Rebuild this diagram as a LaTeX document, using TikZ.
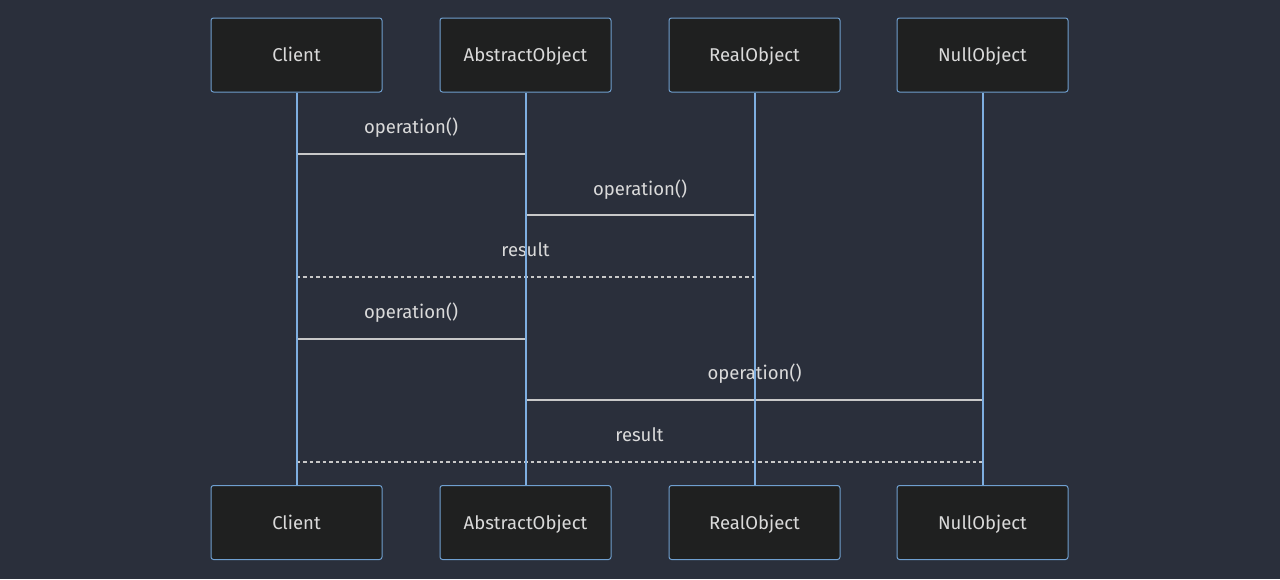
\documentclass[tikz,border=0pt]{standalone}
\usepackage{fontspec}
\setmainfont{Fira Sans}
\usepackage{xcolor}
\usetikzlibrary{positioning,calc}

\definecolor{bgcol}{HTML}{2A2F3B}
\definecolor{boxfill}{HTML}{1F2020}
\definecolor{boxline}{HTML}{6F9FCF}
\definecolor{lifecol}{HTML}{7EAEE0}
\definecolor{msgcol}{HTML}{C8C8C8}
\definecolor{txtcol}{HTML}{DADADA}

\tikzset{
  actor/.style={draw=boxline, fill=boxfill, line width=1pt, rounded corners=2.5pt,
    minimum width=171pt, minimum height=74pt, text=txtcol, font=\fontsize{18.5}{22}\selectfont,
    text height=1.5ex, text depth=.35ex},
  life/.style={draw=lifecol, line width=2pt},
  msg/.style={draw=msgcol, line width=1.8pt},
  reply/.style={msg, dash pattern=on 3.5pt off 3pt},
  lbl/.style={text=txtcol, font=\fontsize{18.5}{22}\selectfont, text height=1.5ex, text depth=.35ex}
}

\begin{document}
\begin{tikzpicture}[x=1pt,y=-1pt]
    \useasboundingbox (0,0) rectangle (1280,579);
    \fill[bgcol] (0,0) rectangle (1280,579);

    % participants, top row
    \node[actor] (cT) at (296.5,55) {\raisebox{-3.5pt}{Client}};
    \node[actor] (aT) at (525.5,55) {\raisebox{-3.5pt}{AbstractObject}};
    \node[actor] (rT) at (754.5,55) {\raisebox{-3.5pt}{RealObject}};
    \node[actor] (nT) at (982.5,55) {\raisebox{-3.5pt}{NullObject}};
    % participants, bottom row
    \node[actor] (cB) at (296.5,522.5) {\raisebox{-3.5pt}{Client}};
    \node[actor] (aB) at (525.5,522.5) {\raisebox{-3.5pt}{AbstractObject}};
    \node[actor] (rB) at (754.5,522.5) {\raisebox{-3.5pt}{RealObject}};
    \node[actor] (nB) at (982.5,522.5) {\raisebox{-3.5pt}{NullObject}};

    % messages
    \draw[msg] (cT.south |- 0,154) -- (aT.south |- 0,154);
    \node[lbl] (m1) at (411,130) {operation()};
    \draw[msg] (aT.south |- 0,215) -- (rT.south |- 0,215);
    \node[lbl] (m2) at (640,192) {operation()};
    \draw[reply] (cT.south |- 0,277) -- (rT.south |- 0,277);
    \node[lbl] (m3) at (525.5,253) {result};
    \draw[msg] (cT.south |- 0,339) -- (aT.south |- 0,339);
    \node[lbl] (m4) at (411,315) {operation()};
    \draw[msg] (aT.south |- 0,400) -- (nT.south |- 0,400);
    \node[lbl] (m5) at (754.5,376) {operation()};
    \draw[reply] (cT.south |- 0,462) -- (nT.south |- 0,462);
    \node[lbl] (m6) at (639.5,438) {result};

    % lifelines
    \draw[life] (cT) -- (cB);
    \draw[life] (aT) -- (aB);
    \draw[life] (rT) -- (rB);
    \draw[life] (nT) -- (nB);
\end{tikzpicture}
\end{document}
